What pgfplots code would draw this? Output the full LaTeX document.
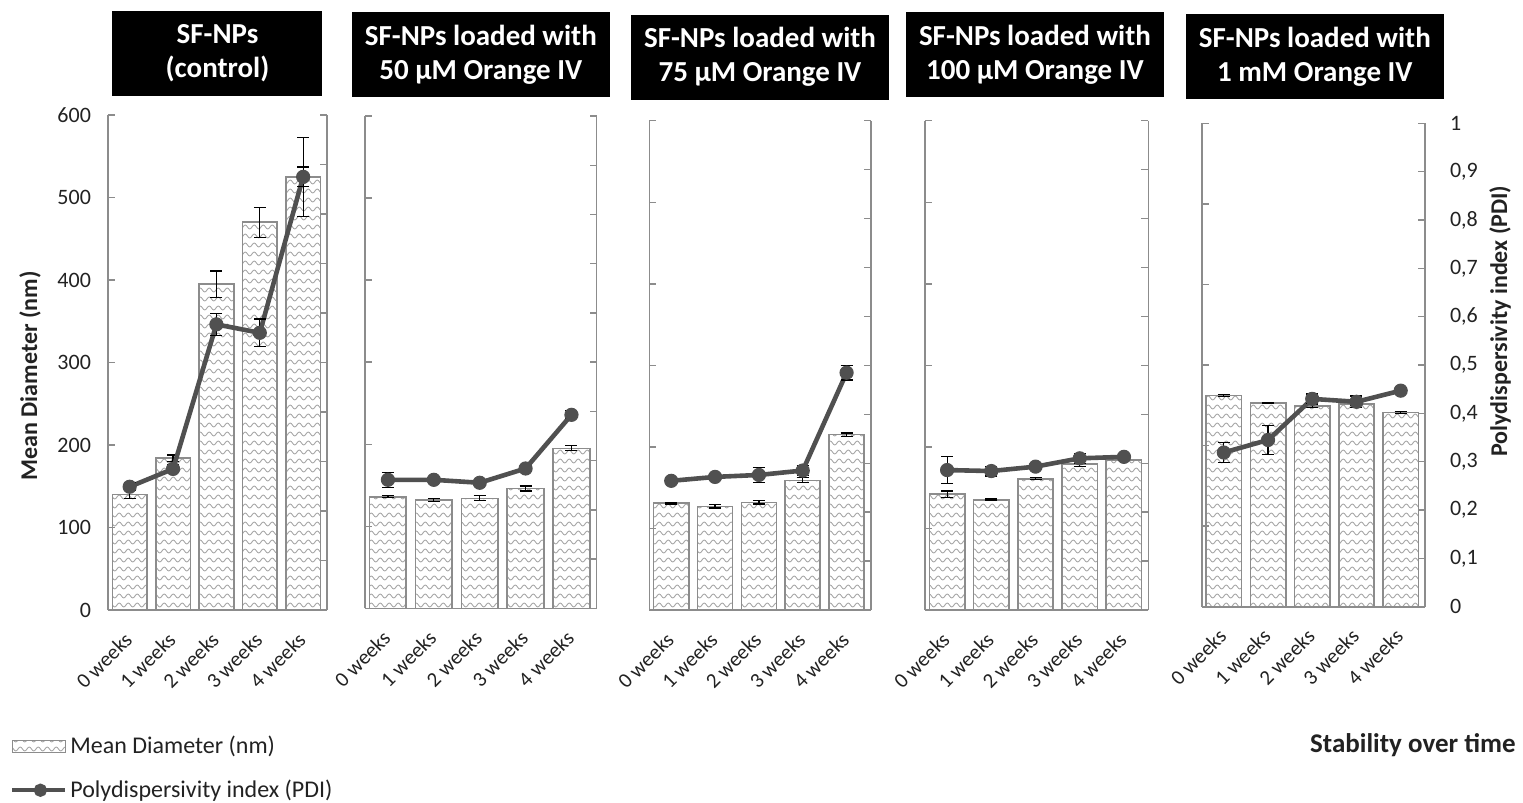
\documentclass[border=0pt]{standalone}
\usepackage{fontspec}
\setmainfont{Carlito}
\usepackage{pgfplots}
\pgfplotsset{compat=1.18}
\usetikzlibrary{patterns}

\definecolor{pdigray}{HTML}{505050}
\definecolor{bargray}{HTML}{8C8C8C}
\definecolor{patgray}{HTML}{A0A0A0}
\definecolor{axgray}{HTML}{8C8C8C}
\definecolor{txt}{HTML}{222222}

\pgfdeclarepatternformonly{waves}{\pgfpoint{-0.5pt}{-1.5pt}}{\pgfpoint{5pt}{1.5pt}}{\pgfpoint{4.5pt}{4.5pt}}{%
  \pgfsetlinewidth{0.4pt}%
  \pgfpathmoveto{\pgfpoint{0pt}{0pt}}%
  \pgfpathcurveto{\pgfpoint{0.75pt}{1.3pt}}{\pgfpoint{1.5pt}{1.3pt}}{\pgfpoint{2.25pt}{0pt}}%
  \pgfpathcurveto{\pgfpoint{3pt}{-1.3pt}}{\pgfpoint{3.75pt}{-1.3pt}}{\pgfpoint{4.5pt}{0pt}}%
  \pgfusepath{stroke}}

\pgfplotsset{
  panelbase/.style={scale only axis, anchor=south west, xmin=-0.5, xmax=4.55,
    axis line style={-, draw=axgray, line width=0.8pt},
    tick align=inside, major tick length=3.5pt,
    every tick/.style={axgray, line width=0.7pt},
    ticklabel style={font=\fontsize{11}{13}\selectfont, text=txt},
    /pgf/number format/assume math mode=true,
    every axis title shift=0pt,
    title style={fill=black, text=white, font=\bfseries\fontsize{14.5}{17}\selectfont,
      align=center, minimum height=42.5pt, minimum width=129pt, inner sep=0pt,
      anchor=south, at={(0.5,1)}}},
  barax/.style={panelbase, axis x line*=bottom, axis y line*=left,
    ymin=0, ymax=600, ytick={0,100,200,300,400,500,600},
    xtick={0,1,2,3,4}, xticklabels={0 weeks,1 weeks,2 weeks,3 weeks,4 weeks},
    major x tick style={draw=none},
    xticklabel style={xshift=-0.5pt, yshift=-13pt, rotate=45, anchor=east, inner sep=0pt,
      font=\fontsize{10.5}{12}\selectfont}},
  pdiax/.style={panelbase, hide x axis, axis y line*=right,
    ymin=0, ymax=1, ytick={0,0.1,0.2,0.3,0.4,0.5,0.6,0.7,0.8,0.9,1},
    /pgf/number format/.cd, use comma, fixed, precision=1},
  barplot/.style={ybar, bar width=0.8, bar shift=0pt, draw=bargray, line width=0.8pt,
    pattern=waves, pattern color=patgray,
    legend image code/.code={\draw[##1] (0pt,-3pt) rectangle (26.5pt,3pt);},
    error bars/.cd, y dir=both, y explicit,
    error bar style={black, line width=0.6pt, solid},
    error mark options={black, line width=0.6pt, mark size=3pt, rotate=90}},
  pdilegend/.style={color=pdigray, line width=2pt, mark=*, mark size=2.3pt,
    mark options={fill=pdigray},
    legend image code/.code={\draw[mark repeat=2, mark phase=2, ##1] plot coordinates {(0pt,0pt) (14pt,0pt) (26.5pt,0pt)};}},
  pdiplot/.style={color=pdigray, line width=2.3pt, mark=*, mark size=3.3pt,
    mark options={fill=pdigray, draw=pdigray, line width=0.5pt},
    error bars/.cd, y dir=both, y explicit,
    error bar style={black, line width=0.6pt, solid},
    error mark options={black, line width=0.6pt, mark size=3pt, rotate=90}},
}

\begin{document}
\begin{tikzpicture}
\useasboundingbox (0,0) rectangle (761.5pt,-401.5pt);

% ---------- Panel 1: control ----------
\begin{axis}[barax, at={(54pt,-305pt)}, width=109.5pt, height=247.5pt,
  title={SF-NPs\\(control)}, title style={minimum width=105pt, yshift=9.5pt},
  yticklabel style={xshift=-5pt},
  ylabel={Mean Diameter (nm)},
  ylabel style={at={(axis description cs:-0.356,0.473)}, anchor=center,
    font=\bfseries\fontsize{12}{14}\selectfont, text=txt},
  legend style={at={(axis description cs:-0.4475,-0.2485)}, anchor=north west,
    draw=none, fill=none, font=\fontsize{12}{14}\selectfont, text=txt,
    cells={anchor=west}, row sep=8.5pt, inner sep=0pt,
    nodes={inner sep=1.5pt}},
  legend cell align=left]
\addplot[barplot] coordinates {(0,140) +- (0,5) (1,184) +- (0,4) (2,395) +- (0,16) (3,470) +- (0,18) (4,525) +- (0,48)};
\addlegendentry{Mean Diameter (nm)}
\addlegendimage{pdilegend}
\addlegendentry{Polydispersivity index (PDI)}
\end{axis}
\begin{axis}[pdiax, at={(54pt,-305pt)}, width=109.5pt, height=247.5pt, yticklabels={}]
\addplot[pdiplot] coordinates {(0,0.249) +- (0,0.008) (1,0.285) +- (0,0.008) (2,0.577) +- (0,0.022) (3,0.560) +- (0,0.028) (4,0.875) +- (0,0.020)};
\end{axis}

% ---------- Panel 2: 50 uM ----------
\begin{axis}[barax, at={(182.5pt,-304.15pt)}, width=115.85pt, height=246.15pt,
  title={SF-NPs loaded with\\50 µM Orange IV}, title style={yshift=9.15pt},
  yticklabels={}]
\addplot[barplot] coordinates {(0,136) +- (0,1) (1,132) +- (0,2) (2,134) +- (0,3) (3,146) +- (0,3) (4,195) +- (0,3)};
\end{axis}
\begin{axis}[pdiax, at={(182.5pt,-304.15pt)}, width=115.85pt, height=246.15pt, yticklabels={}]
\addplot[pdiplot] coordinates {(0,0.261) +- (0,0.015) (1,0.261) +- (0,0.004) (2,0.255) +- (0,0.004) (3,0.284) +- (0,0.005) (4,0.393) +- (0,0.008)};
\end{axis}

% ---------- Panel 3: 75 uM ----------
\begin{axis}[barax, at={(324.65pt,-305pt)}, width=110.7pt, height=244.65pt,
  title={SF-NPs loaded with\\75 µM Orange IV}, title style={yshift=10.35pt},
  yticklabels={}]
\addplot[barplot] coordinates {(0,131) +- (0,1) (1,127) +- (0,2) (2,132) +- (0,2) (3,159) +- (0,3) (4,215) +- (0,2)};
\end{axis}
\begin{axis}[pdiax, at={(324.65pt,-305pt)}, width=110.7pt, height=244.65pt, yticklabels={}]
\addplot[pdiplot] coordinates {(0,0.264) +- (0,0.004) (1,0.272) +- (0,0.006) (2,0.276) +- (0,0.016) (3,0.285) +- (0,0.010) (4,0.485) +- (0,0.015)};
\end{axis}

% ---------- Panel 4: 100 uM ----------
\begin{axis}[barax, at={(462.5pt,-305pt)}, width=111.65pt, height=244.65pt,
  title={SF-NPs loaded with\\100 µM Orange IV}, title style={yshift=11.5pt, xshift=-0.85pt},
  yticklabels={}]
\addplot[barplot] coordinates {(0,142) +- (0,4) (1,135) +- (0,1) (2,161) +- (0,1) (3,179) +- (0,3) (4,184) +- (0,1)};
\end{axis}
\begin{axis}[pdiax, at={(462.5pt,-305pt)}, width=111.65pt, height=244.65pt, yticklabels={}]
\addplot[pdiplot] coordinates {(0,0.286) +- (0,0.027) (1,0.284) +- (0,0.010) (2,0.293) +- (0,0.004) (3,0.310) +- (0,0.010) (4,0.313) +- (0,0.005)};
\end{axis}

% ---------- Panel 5: 1 mM ----------
\begin{axis}[barax, at={(600.85pt,-303.35pt)}, width=111.65pt, height=241.65pt,
  title={SF-NPs loaded with\\1 mM Orange IV}, title style={yshift=12pt, xshift=0.75pt},
  yticklabels={}]
\addplot[barplot] coordinates {(0,262) +- (0,1) (1,253) +- (0,1) (2,249) +- (0,2) (3,252) +- (0,2) (4,241) +- (0,1)};
\end{axis}
\begin{axis}[pdiax, at={(600.85pt,-303.35pt)}, width=111.65pt, height=241.65pt,
  yticklabel style={xshift=9pt},
  ylabel={Polydispersivity index (PDI)},
  ylabel style={at={(axis description cs:1.336,0.591)}, anchor=center,
    font=\bfseries\fontsize{12}{14}\selectfont, text=txt}]
\addplot[pdiplot] coordinates {(0,0.319) +- (0,0.020) (1,0.345) +- (0,0.030) (2,0.430) +- (0,0.010) (3,0.424) +- (0,0.012) (4,0.447) +- (0,0.004)};
\end{axis}

\node[anchor=east, font=\bfseries\fontsize{13.5}{16}\selectfont, text=txt, inner sep=0pt] at (758pt,-372.5pt) {Stability over time};
\end{tikzpicture}
\end{document}
